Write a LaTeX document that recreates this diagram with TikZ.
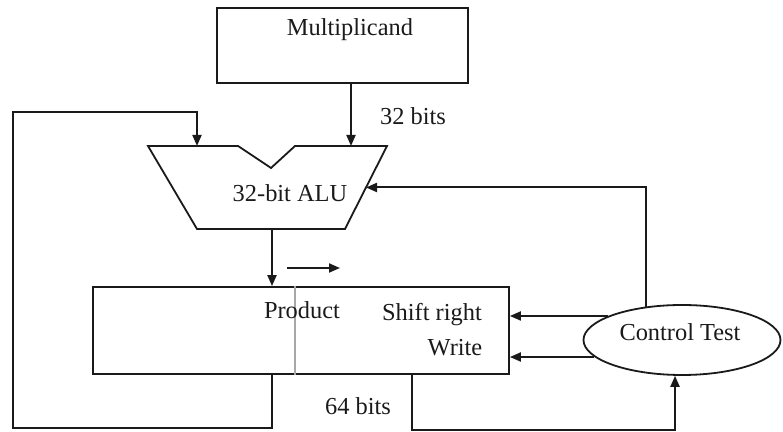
\documentclass[tikz,border=0pt]{standalone}
\usepackage{fontspec}
\setmainfont{Liberation Serif}
\usetikzlibrary{arrows.meta,positioning,calc,shapes.geometric}
\definecolor{inkdark}{HTML}{1A1A1A}
\definecolor{splitgray}{HTML}{A8A8A8}
\tikzset{
  regbox/.style={draw=inkdark, line width=0.9pt, inner sep=0pt},
  unitline/.style={draw=inkdark, line width=0.9pt, line join=miter},
  ctlnode/.style={ellipse, draw=inkdark, line width=0.9pt, inner sep=0pt,
    minimum width=98.5pt, minimum height=35pt},
  lbl/.style={font=\fontsize{12.2}{14}\selectfont, text=inkdark, inner sep=0pt},
  wire/.style={-{Triangle[length=5.5pt,width=4.5pt]}, line width=1pt, color=inkdark},
}

\begin{document}
\begin{tikzpicture}[x=0.5pt,y=-0.5pt]
  \useasboundingbox (0,0) rectangle (783,432);
  % registers
  \node[regbox, minimum width=125.5pt, minimum height=37.5pt] (mcand) at (342.5,45.5) {};
  \node[lbl] (mcandtxt) at (350,30) {Multiplicand};
  \node[regbox, minimum width=208pt, minimum height=43.5pt] (prod) at (301,330.5) {};
  \coordinate (split) at (295,0);
  \draw[splitgray, line width=0.8pt] (prod.north -| split) -- (prod.south -| split);
  \node[lbl] (prodtxt) at (302,310) {Product};
  \node[lbl] (shifttxt) at (432,315) {Shift right};
  \node[lbl] (writetxt) at (455,348) {Write};
  % the ALU
  \coordinate (aluTL) at (148,146);
  \coordinate (aluN1) at (238,146);
  \coordinate (aluV) at (271,168);
  \coordinate (aluN2) at (295,146);
  \coordinate (aluTR) at (387,146);
  \coordinate (aluBR) at (345,229);
  \coordinate (aluBL) at (197,229);
  \draw[unitline] (aluTL) -- (aluN1) -- (aluV) -- (aluN2) -- (aluTR)
    -- (aluBR) -- (aluBL) -- cycle;
  \node[lbl] (alu) at (290,193) {32-bit ALU};
  \coordinate (aluInA) at (197,146);
  \coordinate (aluInB) at (351,146);
  \coordinate (aluOut) at (272,229);
  \coordinate (aluCtl) at ($(aluTR)!0.5!(aluBR)$);
  % control
  \node[ctlnode] (ctl) at (682,340) {};
  \node[lbl] (ctltxt) at (680,332) {Control Test};
  % data paths
  \draw[wire] (mcand.south -| aluInB) -- (aluInB);
  \node[lbl] (w32) at (413,116) {32 bits};
  \draw[wire] (aluOut) -- (aluOut |- prod.north);
  \coordinate (shA) at (287,268);
  \coordinate (shB) at (340,268);
  \draw[wire] (shA) -- (shB);
  \coordinate (loopL) at (13,112);
  \coordinate (loopB) at (0,428);
  \draw[wire] (aluOut |- prod.south) -- (aluOut |- loopB) -| (loopL) -| (aluInA);
  \node[lbl] (w64) at (358,406) {64 bits};
  % control lines
  \draw[wire] (ctl.137) |- (aluCtl);
  \draw[wire] (ctl.162) -- (ctl.162 -| prod.east);
  \draw[wire] (ctl.191) -- (ctl.191 -| prod.east);
  \coordinate (fbX) at (412,430);
  \draw[wire] (prod.south -| fbX) -- (fbX) -| (ctl.259);
\end{tikzpicture}
\end{document}
